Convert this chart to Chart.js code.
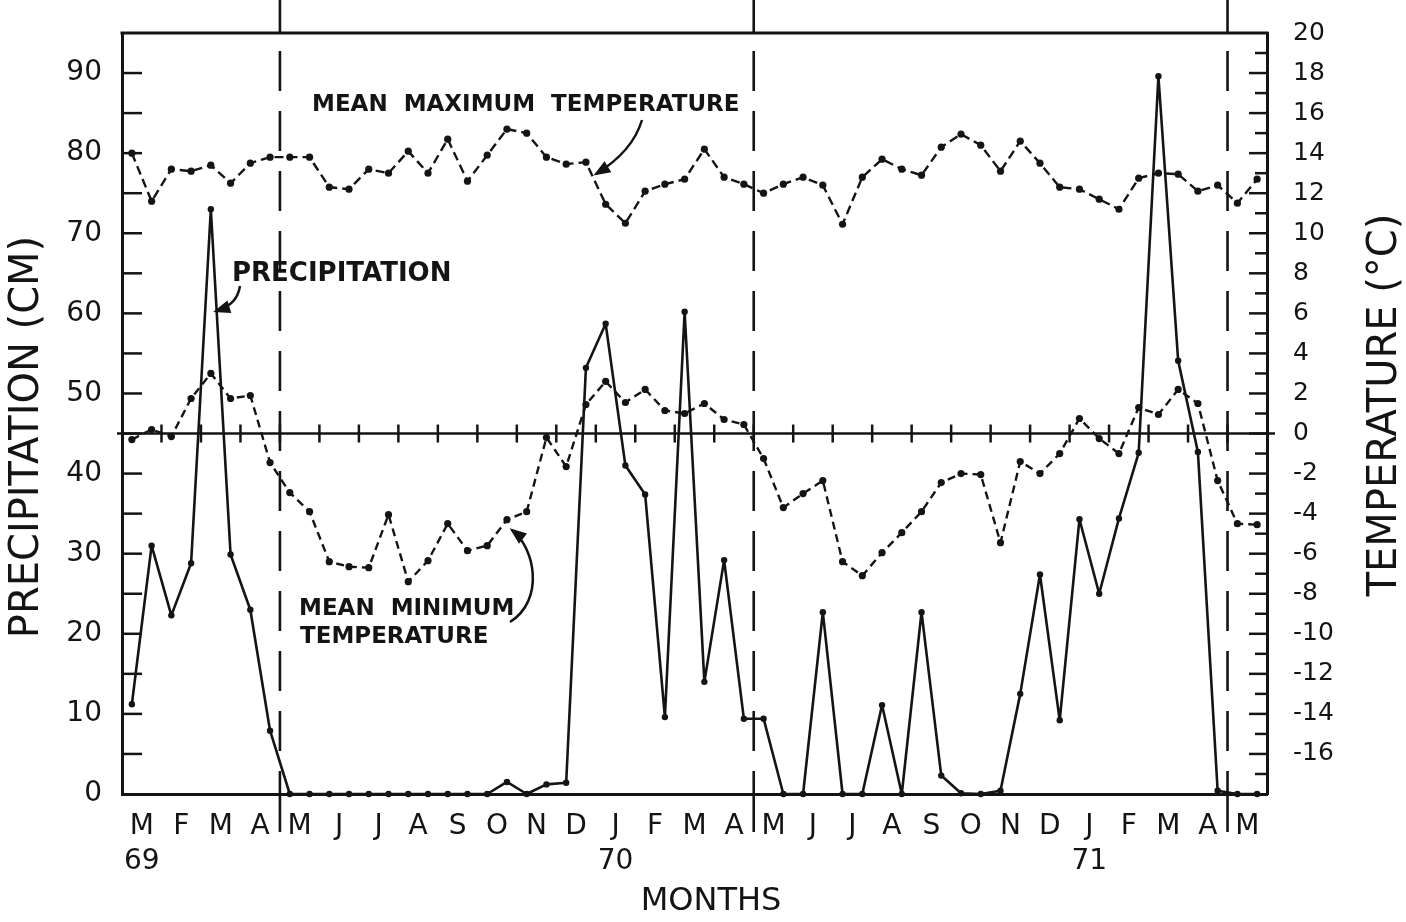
<!DOCTYPE html>
<html>
<head>
<meta charset="utf-8">
<script src="https://cdn.jsdelivr.net/npm/chart.js@4.4.0/dist/chart.umd.min.js"></script>
<style>
  html, body { margin: 0; background: #fff; }
  canvas { display: block; }
</style>
</head>
<body>
<canvas id="chart" width="1406" height="922"></canvas>
<script>
/* Precipitation and mean max / min temperature, Jan 1969 - May 1971,
 * two readings per month (half-month steps on the x axis). */
var INK = '#141414';
var FONT = '"DejaVu Sans", sans-serif';

var monthLabels = ['M','F','M','A','M','J','J','A','S','O','N','D',
                   'J','F','M','A','M','J','J','A','S','O','N','D',
                   'J','F','M','A','M'];
var yearLabels = ['69', '70', '71'];
var yearMonthIndex = [0, 12, 24];

var precipTicks = [0, 10, 20, 30, 40, 50, 60, 70, 80, 90];
var tempTicks = [-16, -14, -12, -10, -8, -6, -4, -2, 0, 2, 4, 6, 8, 10, 12, 14, 16, 18, 20];

// precipitation, cm (left axis)
var precipitation = [
  11.2, 31.0, 22.3, 28.8, 73.0, 29.9, 23.0, 7.9, 0, 0,
  0, 0, 0, 0, 0, 0, 0, 0, 0, 1.5,
  0, 1.2, 1.4, 53.2, 58.7, 41.0, 37.4, 9.6, 60.2, 14.0,
  29.2, 9.4, 9.4, 0, 0, 22.7, 0, 0, 11.1, 0,
  22.7, 2.3, 0.1, 0, 0.4, 12.5, 27.4, 9.2, 34.3, 25.0,
  34.4, 42.6, 89.6, 54.1, 42.7, 0.4, 0, 0
];

// mean maximum temperature, deg C (right axis)
var maxTemp = [
  14.0, 11.6, 13.2, 13.1, 13.4, 12.5, 13.5, 13.8, 13.8, 13.8,
  12.3, 12.2, 13.2, 13.0, 14.1, 13.0, 14.7, 12.6, 13.9, 15.2,
  15.0, 13.8, 13.45, 13.55, 11.45, 10.5, 12.1, 12.45, 12.7, 14.2,
  12.8, 12.45, 12.0, 12.45, 12.8, 12.4, 10.45, 12.8, 13.7, 13.2,
  12.9, 14.3, 14.95, 14.4, 13.1, 14.6, 13.5, 12.3, 12.2, 11.7,
  11.2, 12.75, 13.0, 12.95, 12.1, 12.4, 11.5, 12.7
];

// mean minimum temperature, deg C (right axis)
var minTemp = [
  -0.3, 0.2, -0.15, 1.75, 3.0, 1.75, 1.9, -1.45, -2.95, -3.9,
  -6.4, -6.65, -6.7, -4.05, -7.4, -6.35, -4.5, -5.85, -5.6, -4.3,
  -3.9, -0.2, -1.65, 1.45, 2.6, 1.55, 2.2, 1.15, 1.0, 1.5,
  0.7, 0.45, -1.25, -3.7, -3.0, -2.35, -6.4, -7.1, -5.95, -4.95,
  -3.9, -2.45, -2.0, -2.05, -5.45, -1.4, -2.0, -1.0, 0.75, -0.25,
  -1.0, 1.3, 0.95, 2.2, 1.5, -2.35, -4.5, -4.55
];

// month boundaries (in half-month units) carrying the long dashed dividers
var dividers = [8, 32, 56];

function toPoints(arr) {
  return arr.map(function(v, i) { return { x: i + 0.5, y: v }; });
}

function line(ctx, x1, y1, x2, y2) {
  ctx.beginPath();
  ctx.moveTo(x1, y1);
  ctx.lineTo(x2, y2);
  ctx.stroke();
}

function arrow(ctx, pts) {
  // pts: start, cp1, cp2, tip (cubic curve ending in a filled head)
  ctx.beginPath();
  ctx.moveTo(pts[0][0], pts[0][1]);
  ctx.bezierCurveTo(pts[1][0], pts[1][1], pts[2][0], pts[2][1], pts[3][0], pts[3][1]);
  ctx.stroke();
  var dx = pts[3][0] - pts[2][0], dy = pts[3][1] - pts[2][1];
  var a = Math.atan2(dy, dx);
  var L = 17, W = 6.5;
  var tx = pts[3][0] + Math.cos(a) * 3, ty = pts[3][1] + Math.sin(a) * 3;
  ctx.beginPath();
  ctx.moveTo(tx, ty);
  ctx.lineTo(tx - L * Math.cos(a) + W * Math.sin(a), ty - L * Math.sin(a) - W * Math.cos(a));
  ctx.lineTo(tx - L * Math.cos(a) - W * Math.sin(a), ty - L * Math.sin(a) + W * Math.cos(a));
  ctx.closePath();
  ctx.fill();
}

function label(ctx, s, x, y, size) {
  ctx.font = 'bold ' + size + 'px ' + FONT;
  ctx.textAlign = 'left';
  ctx.textBaseline = 'alphabetic';
  ctx.fillText(s, x, y);
}

var decor = {
  id: 'decor',
  beforeDatasetsDraw: function(chart) {
    var ctx = chart.ctx, a = chart.chartArea;
    var x = chart.scales.x, p = chart.scales.p, t = chart.scales.t;
    ctx.save();
    ctx.strokeStyle = INK;
    ctx.lineCap = 'butt';

    // top of frame
    ctx.lineWidth = 3;
    line(ctx, a.left - 1.5, a.top, a.right + 1.5, a.top);

    // inward ticks, left every 5 cm, right every degree
    ctx.lineWidth = 2.5;
    for (var v = 5; v < 95; v += 5) {
      var y = p.getPixelForValue(v);
      line(ctx, a.left, y, a.left + 20, y);
    }
    for (var d = -17; d < 20; d++) {
      var yy = t.getPixelForValue(d);
      line(ctx, a.right - (d % 2 === 0 ? 18 : 12), yy, a.right, yy);
    }

    // 0 deg line with month ticks
    var y0 = t.getPixelForValue(0);
    ctx.lineWidth = 2.5;
    line(ctx, a.left - 5, y0, a.right + 8, y0);
    for (var k = 2; k < 58; k += 2) {
      var xx = x.getPixelForValue(k);
      line(ctx, xx, y0 - 9, xx, y0 + 9);
    }

    // long dashed year dividers
    dividers.forEach(function(dv) {
      var xd = x.getPixelForValue(dv);
      ctx.lineWidth = 2.6;
      ctx.setLineDash([]);
      line(ctx, xd, 0, xd, a.top);
      line(ctx, xd, a.bottom - 12, xd, a.bottom + 38);
      ctx.setLineDash([40, 20]);
      line(ctx, xd, a.top + 18, xd, a.bottom - 12);
      ctx.setLineDash([]);
    });
    ctx.restore();
  },
  afterDraw: function(chart) {
    var ctx = chart.ctx;
    ctx.save();
    ctx.fillStyle = INK;
    ctx.strokeStyle = INK;

    // axis titles
    ctx.font = '40px ' + FONT;
    ctx.textAlign = 'center';
    ctx.textBaseline = 'middle';
    ctx.save();
    ctx.translate(28, 437);
    ctx.rotate(-Math.PI / 2);
    ctx.fillText('PRECIPITATION (CM)', 0, 0);
    ctx.restore();
    ctx.save();
    ctx.translate(1386, 405);
    ctx.rotate(-Math.PI / 2);
    ctx.fillText('TEMPERATURE (\u00B0C)', 0, 0);
    ctx.restore();
    ctx.font = '32px ' + FONT;
    ctx.fillText('MONTHS', 711, 902);

    // series labels
    label(ctx, 'MEAN  MAXIMUM  TEMPERATURE', 312, 111, 23);
    label(ctx, 'PRECIPITATION', 232, 281, 26);
    label(ctx, 'MEAN  MINIMUM', 299, 615, 23);
    label(ctx, 'TEMPERATURE', 300, 643, 23);

    ctx.lineWidth = 2.5;
    arrow(ctx, [[642, 120], [636, 140], [622, 158], [596, 174]]);
    arrow(ctx, [[240, 286], [238, 298], [232, 306], [216, 311]]);
    arrow(ctx, [[510, 622], [545, 600], [535, 548], [512, 530]]);
    ctx.restore();
  }
};

new Chart(document.getElementById('chart').getContext('2d'), {
  type: 'line',
  data: {
    datasets: [
      {
        label: 'Precipitation',
        data: toPoints(precipitation),
        yAxisID: 'p',
        borderColor: INK, backgroundColor: INK,
        borderWidth: 2.6, borderJoinStyle: 'round', pointRadius: 3.2, pointBorderWidth: 0,
        tension: 0, clip: false
      },
      {
        label: 'Mean maximum temperature',
        data: toPoints(maxTemp),
        yAxisID: 't',
        borderColor: INK, backgroundColor: INK,
        borderWidth: 2.4, borderDash: [9, 5], borderJoinStyle: 'round',
        pointRadius: 3.6, pointBorderWidth: 0,
        tension: 0, clip: false
      },
      {
        label: 'Mean minimum temperature',
        data: toPoints(minTemp),
        yAxisID: 't',
        borderColor: INK, backgroundColor: INK,
        borderWidth: 2.4, borderDash: [8, 5], borderJoinStyle: 'round',
        pointRadius: 3.6, pointBorderWidth: 0,
        tension: 0, clip: false
      }
    ]
  },
  options: {
    responsive: false,
    animation: false,
    events: [],
    layout: { padding: { top: 32, left: 0, right: 0, bottom: 0 } },
    plugins: { legend: { display: false }, tooltip: { enabled: false } },
    scales: {
      x: {
        type: 'linear', position: 'bottom', min: 0, max: 58,
        grid: { display: false },
        border: { display: true, width: 3, color: INK },
        afterBuildTicks: function(s) {
          s.ticks = monthLabels.map(function(m, k) { return { value: 2 * k + 1 }; });
        },
        afterFit: function(s) { s.height = 128; },
        ticks: {
          autoSkip: false, maxRotation: 0, minRotation: 0, padding: 7,
          color: INK, font: { family: FONT, size: 28, lineHeight: 1.25 },
          callback: function(value) {
            var k = Math.round((value - 1) / 2);
            var yi = yearMonthIndex.indexOf(k);
            return yi >= 0 ? [monthLabels[k], yearLabels[yi]] : monthLabels[k];
          }
        }
      },
      p: {
        type: 'linear', position: 'left', min: 0, max: 95,
        grid: { display: false },
        border: { display: true, width: 3, color: INK },
        afterBuildTicks: function(s) {
          s.ticks = precipTicks.map(function(v) { return { value: v }; });
        },
        afterFit: function(s) { s.width = 122; },
        ticks: { padding: 12, color: INK, font: { family: FONT, size: 28 } }
      },
      t: {
        type: 'linear', position: 'right', min: -18, max: 20,
        grid: { display: false },
        border: { display: true, width: 3, color: INK },
        afterBuildTicks: function(s) {
          s.ticks = tempTicks.map(function(v) { return { value: v }; });
        },
        afterFit: function(s) { s.width = 139; },
        ticks: { padding: 18, color: INK, font: { family: FONT, size: 25 } }
      }
    }
  },
  plugins: [decor]
});
</script>
</body>
</html>
